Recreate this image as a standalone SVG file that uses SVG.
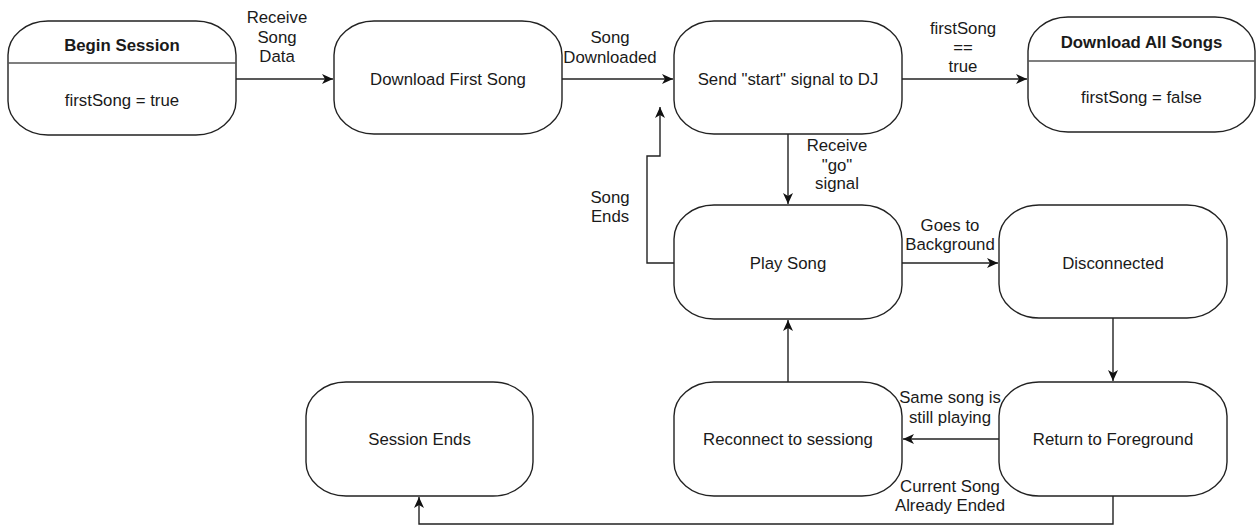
<svg xmlns="http://www.w3.org/2000/svg" width="1257" height="527" viewBox="0 0 1257 527">
<style>
.box{fill:#fff;stroke:#222;stroke-width:1.4}
.hdr{stroke:#555;stroke-width:1.4}
.t{font-family:"Liberation Sans",Arial,sans-serif;font-size:16.8px;fill:#1a1a1a;text-anchor:middle}
.b{font-weight:bold}
.e{fill:none;stroke:#222;stroke-width:1.4;marker-end:url(#ah)}
</style>
<defs>
<marker id="ah" markerUnits="userSpaceOnUse" markerWidth="13" markerHeight="11" refX="11" refY="5.5" orient="auto">
<path d="M0,0.5 L11,5.5 L0,10.5 L3,5.5 z" fill="#111"/>
</marker>
</defs>
<rect width="1257" height="527" fill="#fff"/>
<g id="connectors">
<path class="e" d="M236,79 H333"/>
<path class="e" d="M562,79 H673"/>
<path class="e" d="M902,79 H1027"/>
<path class="e" d="M788,134 V204"/>
<path class="e" d="M674,263 H647 V156 H660 V107"/>
<path class="e" d="M902,263 H998"/>
<path class="e" d="M1113,318 V381"/>
<path class="e" d="M999,439 H903"/>
<path class="e" d="M788,382 V320"/>
<path class="e" d="M1113,496 V524 H419 V497"/>
<text class="t" x="277" y="23">Receive</text>
<text class="t" x="277" y="43">Song</text>
<text class="t" x="277" y="62">Data</text>
<text class="t" x="610" y="43">Song</text>
<text class="t" x="610" y="63">Downloaded</text>
<text class="t" x="963" y="34">firstSong</text>
<text class="t" x="963" y="53">==</text>
<text class="t" x="963" y="72">true</text>
<text class="t" x="837" y="151">Receive</text>
<text class="t" x="837" y="171">"go"</text>
<text class="t" x="837" y="189">signal</text>
<text class="t" x="610" y="203">Song</text>
<text class="t" x="610" y="222">Ends</text>
<text class="t" x="950" y="231">Goes to</text>
<text class="t" x="950" y="250">Background</text>
<text class="t" x="950" y="403">Same song is</text>
<text class="t" x="950" y="423">still playing</text>
<text class="t" x="950" y="492">Current Song</text>
<text class="t" x="950" y="511">Already Ended</text>
</g>
<g id="begin-session">
<rect class="box" x="8" y="21" width="228" height="114" rx="40" ry="34"/>
<line class="hdr" x1="8" y1="63" x2="236" y2="63"/>
<text class="t b" x="122" y="51">Begin Session</text>
<text class="t" x="122" y="106">firstSong = true</text>
</g>
<g id="download-first-song">
<rect class="box" x="334" y="21" width="228" height="113" rx="40" ry="34"/>
<text class="t" x="448" y="85">Download First Song</text>
</g>
<g id="send-start">
<rect class="box" x="674" y="21" width="228" height="113" rx="40" ry="34"/>
<text class="t" x="788" y="85">Send "start" signal to DJ</text>
</g>
<g id="download-all-songs">
<rect class="box" x="1028" y="17" width="227" height="115" rx="40" ry="34"/>
<line class="hdr" x1="1028" y1="61" x2="1255" y2="61"/>
<text class="t b" x="1141.5" y="48">Download All Songs</text>
<text class="t" x="1141.5" y="103">firstSong = false</text>
</g>
<g id="play-song">
<rect class="box" x="674" y="205" width="228" height="114" rx="40" ry="34"/>
<text class="t" x="788" y="269">Play Song</text>
</g>
<g id="disconnected">
<rect class="box" x="999" y="205" width="228" height="113" rx="40" ry="34"/>
<text class="t" x="1113" y="269">Disconnected</text>
</g>
<g id="session-ends">
<rect class="box" x="306" y="382" width="227" height="114" rx="40" ry="34"/>
<text class="t" x="419.5" y="445">Session Ends</text>
</g>
<g id="reconnect">
<rect class="box" x="674" y="382" width="228" height="114" rx="40" ry="34"/>
<text class="t" x="788" y="445">Reconnect to sessiong</text>
</g>
<g id="return-foreground">
<rect class="box" x="999" y="382" width="228" height="114" rx="40" ry="34"/>
<text class="t" x="1113" y="445">Return to Foreground</text>
</g>
</svg>
